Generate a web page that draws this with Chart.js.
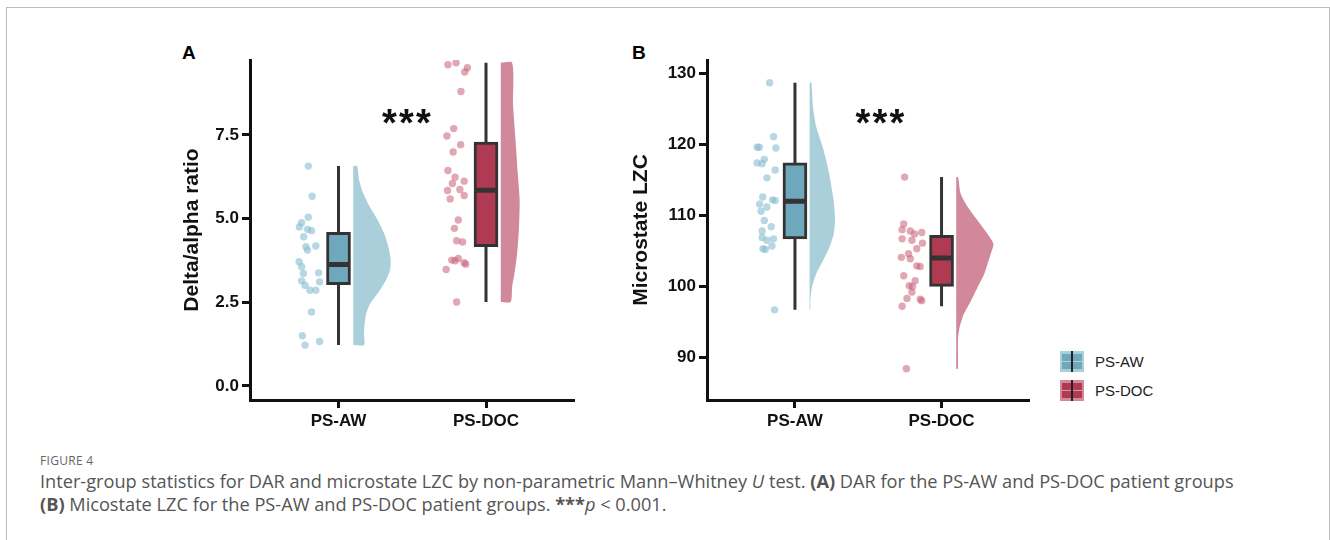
<!DOCTYPE html>
<html lang="en">
<head>
    <meta charset="UTF-8">
    <title>Figure 4 - DAR and microstate LZC</title>
    <script src="https://cdn.jsdelivr.net/npm/chart.js"></script>
    <style>
        body {
            margin: 0;
            width: 1330px;
            height: 540px;
            background: #fff;
            position: relative;
            overflow: hidden;
            font-family: "Liberation Sans", Arial, sans-serif;
        }

        .frame {
            position: absolute;
            left: 6px;
            top: 7px;
            width: 1322px;
            height: 560px;
            border: 1px solid #bdbdbd;
        }

        canvas {
            position: absolute;
        }

        .panel {
            position: absolute;
            font-weight: bold;
            font-size: 19px;
            line-height: 1;
        }

        .legend {
            position: absolute;
            left: 1060px;
            top: 347px;
        }

        .legend-item {
            display: flex;
            align-items: center;
            height: 29px;
        }

        .icon {
            position: relative;
            width: 24px;
            height: 21px;
            margin-right: 11px;
        }

        .icon .inner {
            position: absolute;
            left: 2px;
            right: 2px;
            top: 3px;
            bottom: 3px;
        }

        .icon .mid {
            position: absolute;
            left: 2px;
            right: 2px;
            top: 10px;
            height: 1px;
            opacity: 0.5;
            background: #fff;
        }

        .icon .stem {
            position: absolute;
            left: 11px;
            width: 2px;
            top: 0;
            bottom: 0;
            background: #222;
        }

        .legend-item span {
            font-size: 15px;
            color: #222;
        }

        .caption {
            position: absolute;
            left: 40px;
            top: 452px;
            color: #555;
            font-family: "Open Sans", sans-serif;
        }

        .caption .fig {
            font-size: 12px;
            letter-spacing: 0.3px;
            color: #666;
            line-height: 18px;
        }

        .caption p {
            margin: 0;
            font-size: 18.2px;
            line-height: 23px;
            white-space: nowrap;
        }
    </style>
</head>
<body>
    <div class="frame"></div>

    <div class="panel" style="left:182px; top:43px;">A</div>
    <div class="panel" style="left:632px; top:43px;">B</div>

    <canvas id="chartA" width="420" height="400" style="left:170px; top:40px;"></canvas>
    <canvas id="chartB" width="435" height="400" style="left:610px; top:40px;"></canvas>

    <div class="legend">
        <div class="legend-item">
            <div class="icon" style="background:#a9cfda;">
                <div class="inner" style="background:#6fa8bd;"></div>
                <div class="mid"></div>
                <div class="stem"></div>
            </div>
            <span>PS-AW</span>
        </div>
        <div class="legend-item">
            <div class="icon" style="background:#d28a98;">
                <div class="inner" style="background:#b03a52;"></div>
                <div class="mid"></div>
                <div class="stem"></div>
            </div>
            <span>PS-DOC</span>
        </div>
    </div>

    <div class="caption">
        <div class="fig">FIGURE 4</div>
        <p>Inter-group statistics for DAR and microstate LZC by non-parametric Mann–Whitney <i>U</i> test. <b>(A)</b> DAR for the PS-AW and PS-DOC patient groups</p>
        <p><b>(B)</b> Micostate LZC for the PS-AW and PS-DOC patient groups. <b>***</b><i>p</i> &lt; 0.001.</p>
    </div>

    <script>
        const groups = ["PS-AW", "PS-DOC"];

        // Panel A: delta/alpha ratio
        const darTicks = [0, 2.5, 5, 7.5];
        const darAwValues = [6.57, 5.67, 5.04, 4.88, 4.75, 4.68, 4.64, 4.46, 4.16, 4.06, 4.18, 3.71,
                             3.56, 3.36, 3.38, 3.14, 3.01, 3.11, 2.86, 2.86, 2.21, 1.50, 1.22, 1.33];
        const darAwJitter = [-0.205, -0.179, -0.205, -0.250, -0.265, -0.210, -0.183, -0.236, -0.221, -0.210, -0.154, -0.267,
                             -0.250, -0.238, -0.135, -0.250, -0.227, -0.128, -0.194, -0.154, -0.183, -0.245, -0.227, -0.128];
        const darDocValues = [9.60, 9.66, 9.51, 9.38, 8.80, 7.69, 7.47, 7.21, 6.99, 6.44, 6.24, 6.05, 6.12, 5.84,
                              5.87, 5.69, 5.59, 4.96, 4.71, 4.34, 4.30, 3.76, 3.81, 3.74, 3.68, 3.64, 3.48, 2.51];
        const darDocJitter = [-0.258, -0.203, -0.126, -0.144, -0.170, -0.219, -0.265, -0.172, -0.223, -0.258, -0.210, -0.228, -0.148, -0.261,
                              -0.177, -0.148, -0.243, -0.188, -0.214, -0.199, -0.159, -0.232, -0.188, -0.210, -0.148, -0.137, -0.270, -0.199];
        // min, q1, median, q3, max
        const darAwBox = [1.22, 3.03, 3.63, 4.59, 6.57];
        const darDocBox = [2.51, 4.16, 5.85, 7.29, 9.66];
        // half-violin outline: value and density width (x units)
        const darAwDensY = [6.57, 6.17, 5.77, 5.37, 4.96, 4.56, 4.16, 3.76, 3.46, 3.16, 2.76, 2.46, 2.16, 1.86, 1.55, 1.22];
        const darAwDensW = [0.026, 0.039, 0.066, 0.110, 0.165, 0.209, 0.238, 0.254, 0.249, 0.221, 0.165, 0.115, 0.088, 0.077, 0.073, 0.073];
        const darDocDensY = [9.66, 8.38, 7.37, 6.37, 5.57, 4.76, 3.96, 3.36, 2.96, 2.51];
        const darDocDensW = [0.077, 0.084, 0.100, 0.115, 0.128, 0.124, 0.111, 0.093, 0.077, 0.067];

        // Panel B: microstate LZC
        const lzcTicks = [90, 100, 110, 120, 130];
        const lzcAwValues = [128.7, 121.1, 119.6, 119.6, 119.5, 117.9, 117.4, 117.3, 116.4, 115.3, 112.6, 112.2, 112.1,
                             111.6, 111.2, 110.6, 109.3, 108.4, 107.8, 106.7, 106.9, 106.5, 105.3, 105.7, 105.2, 96.7];
        const lzcAwJitter = [-0.173, -0.146, -0.258, -0.243, -0.130, -0.209, -0.258, -0.224, -0.135, -0.191, -0.220, -0.153, -0.135,
                             -0.241, -0.191, -0.231, -0.209, -0.162, -0.224, -0.146, -0.224, -0.191, -0.218, -0.157, -0.202, -0.139];
        const lzcDocValues = [115.4, 108.8, 108.0, 107.8, 106.7, 107.4, 107.6, 106.5, 106.1, 105.3, 104.6, 104.1, 103.9,
                              102.9, 102.8, 101.5, 100.8, 100.1, 100.0, 99.2, 98.3, 98.2, 98.0, 97.2, 88.4];
        const lzcDocJitter = [-0.252, -0.258, -0.269, -0.213, -0.269, -0.184, -0.135, -0.202, -0.130, -0.169, -0.225, -0.274, -0.213,
                              -0.169, -0.146, -0.258, -0.180, -0.220, -0.198, -0.202, -0.236, -0.146, -0.135, -0.269, -0.240];
        const lzcAwBox = [96.7, 106.7, 112.0, 117.4, 128.7];
        const lzcDocBox = [97.2, 100.0, 104.0, 107.2, 115.4];
        const lzcAwDensY = [128.7, 125.3, 122.5, 119.6, 116.8, 114.9, 112.1, 109.3, 107.4, 105.5, 103.6, 101.8, 99.9, 98.0, 96.7];
        const lzcAwDensW = [0.012, 0.023, 0.045, 0.090, 0.124, 0.142, 0.164, 0.173, 0.164, 0.135, 0.090, 0.045, 0.016, 0.005, 0.005];
        const lzcDocDensY = [115.4, 113.1, 111.2, 109.3, 107.4, 106.0, 104.6, 103.2, 101.8, 99.9, 98.0, 96.1, 94.2, 92.4, 88.4];
        const lzcDocDensW = [0.012, 0.030, 0.079, 0.146, 0.214, 0.254, 0.236, 0.214, 0.192, 0.146, 0.101, 0.052, 0.023, 0.012, 0.012];

        const colors = {
            aw: { dot: "rgba(135,188,207,0.6)", box: "#6fa8bd", violin: "#a9cfda" },
            doc: { dot: "rgba(200,95,118,0.55)", box: "#b03a52", violin: "#d0889a" }
        };
        const dark = "#333333";
        const violinGap = 0.10;

        function groupDatasets(pos, values, jitter, box, densY, densW, col) {
            const base = pos + violinGap;
            const shape = [{ x: base, y: densY[0] }];
            densY.forEach((v, i) => shape.push({ x: base + densW[i], y: v }));
            shape.push({ x: base, y: densY[densY.length - 1] });

            return [
                {
                    type: "line", data: shape, showLine: true, fill: "shape",
                    backgroundColor: col.violin, borderWidth: 0, pointRadius: 0, tension: 0.25, order: 6
                },
                {
                    type: "line", data: [{ x: pos, y: box[0] }, { x: pos, y: box[4] }], showLine: true,
                    borderColor: dark, borderWidth: 3, pointRadius: 0, fill: false, order: 5
                },
                {
                    type: "bar", data: [{ x: pos, y: [box[1], box[3]] }], backgroundColor: col.box, grouped: false,
                    borderColor: dark, borderWidth: 3, borderSkipped: false, barThickness: 24, order: 4
                },
                {
                    type: "scatter", data: [{ x: pos, y: box[2] }], pointStyle: "line", pointRadius: 10.5,
                    borderColor: dark, borderWidth: 5, order: 3
                },
                {
                    type: "scatter", data: values.map((v, i) => ({ x: pos + jitter[i], y: v })),
                    backgroundColor: col.dot, borderWidth: 0, pointRadius: 3.7, order: 2
                }
            ];
        }

        const sigPlugin = {
            id: "sigMark",
            afterDatasetsDraw(chart, args, opts) {
                const ctx = chart.ctx;
                const size = 38;
                ctx.save();
                ctx.font = "bold " + size + "px 'Liberation Sans', Arial, sans-serif";
                ctx.fillStyle = "#111";
                ctx.textAlign = "center";
                ctx.textBaseline = "alphabetic";
                const px = chart.scales.x.getPixelForValue(opts.x);
                const py = chart.scales.y.getPixelForValue(opts.y);
                const step = 17;
                for (let i = -1; i <= 1; i++) {
                    ctx.fillText("*", px + i * step, py + size * 0.56);
                }
                ctx.restore();
            }
        };

        function makeChart(id, datasets, yMin, yMax, yTicks, yTitle, titlePad, yWidth, padRight, sig) {
            const tickFont = { family: "'Liberation Sans', Arial, sans-serif", size: 17, weight: "bold" };
            return new Chart(document.getElementById(id), {
                type: "scatter",
                data: { datasets: datasets },
                plugins: [sigPlugin],
                options: {
                    responsive: false,
                    animation: false,
                    layout: { padding: { top: 20, right: padRight, bottom: 0, left: 0 } },
                    plugins: {
                        legend: { display: false },
                        tooltip: { enabled: false },
                        sigMark: sig
                    },
                    scales: {
                        x: {
                            type: "linear", min: 0.4, max: 2.6, offset: false,
                            afterBuildTicks: s => { s.ticks = [1, 2].map(v => ({ value: v })); },
                            afterFit: s => { s.height = 40; },
                            ticks: {
                                callback: v => groups[v - 1], color: "#111", font: tickFont, padding: 3
                            },
                            grid: { drawOnChartArea: false, offset: false, tickLength: 8, tickWidth: 3, tickColor: "#111" },
                            border: { display: true, color: "#111", width: 3 }
                        },
                        y: {
                            type: "linear", min: yMin, max: yMax,
                            afterBuildTicks: s => { s.ticks = yTicks.map(v => ({ value: v })); },
                            afterFit: s => { s.width = yWidth; },
                            ticks: {
                                callback: v => (Number.isInteger(v) && yMax > 50) ? String(v) : v.toFixed(1),
                                color: "#111", font: tickFont, padding: 3
                            },
                            grid: { drawOnChartArea: false, tickLength: 8, tickWidth: 3, tickColor: "#111" },
                            border: { display: true, color: "#111", width: 3 },
                            title: {
                                display: true, text: yTitle, color: "#111",
                                font: { family: "'Liberation Sans', Arial, sans-serif", size: 21, weight: "bold" },
                                padding: { top: titlePad, bottom: 0 }
                            }
                        }
                    }
                }
            });
        }

        const dsA = [].concat(
            groupDatasets(1, darAwValues, darAwJitter, darAwBox, darAwDensY, darAwDensW, colors.aw),
            groupDatasets(2, darDocValues, darDocJitter, darDocBox, darDocDensY, darDocDensW, colors.doc)
        );
        const dsB = [].concat(
            groupDatasets(1, lzcAwValues, lzcAwJitter, lzcAwBox, lzcAwDensY, lzcAwDensW, colors.aw),
            groupDatasets(2, lzcDocValues, lzcDocJitter, lzcDocBox, lzcDocDensY, lzcDocDensW, colors.doc)
        );

        makeChart("chartA", dsA, -0.42, 9.74, darTicks, "Delta/alpha ratio", 10, 80, 7,
                  { x: 1.46, y: 8.1, text: "***" });
        makeChart("chartB", dsB, 84, 131.9, lzcTicks, "Microstate LZC", 19, 97, 12,
                  { x: 1.58, y: 124.2, text: "***" });
    </script>
</body>
</html>
